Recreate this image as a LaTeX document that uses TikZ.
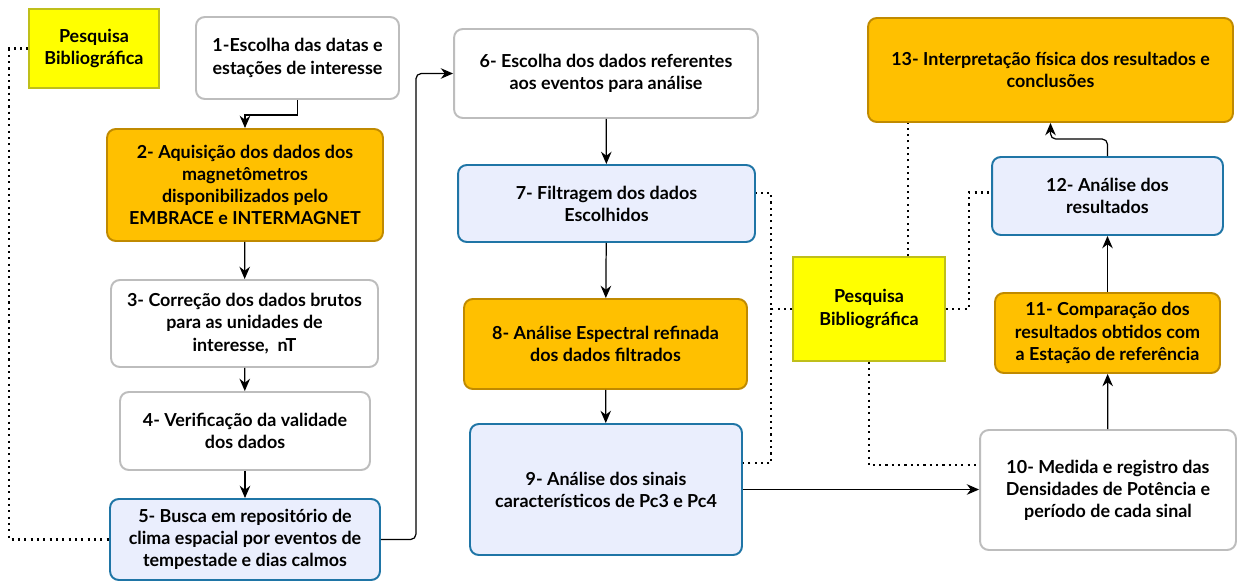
\documentclass[tikz,border=0pt]{standalone}
\usepackage{fontspec}
\setmainfont{Lato}
\usetikzlibrary{arrows.meta}

\definecolor{boxorange}{HTML}{FFC000}
\definecolor{boxorangeline}{HTML}{C08A00}
\definecolor{boxblue}{HTML}{EAEEFD}
\definecolor{boxblueline}{HTML}{1F75A6}
\definecolor{boxgrayline}{HTML}{BDBDBD}
\definecolor{pbyellow}{HTML}{FFFF00}
\definecolor{pbyellowline}{HTML}{BFBF1A}

\tikzset{
  etapa/.style={draw=boxgrayline, fill=white, rounded corners=5pt, line width=1.1pt,
    align=center, inner sep=2pt, font=\bfseries\fontsize{10.2}{12.6}\selectfont},
  laranja/.style={etapa, draw=boxorangeline, fill=boxorange},
  azul/.style={etapa, draw=boxblueline, fill=boxblue},
  pesquisa/.style={etapa, rounded corners=0pt, draw=pbyellowline, fill=pbyellow, line width=0.8pt},
  fluxo/.style={-{Stealth[length=7pt,width=6pt]}, line width=0.7pt},
  referencia/.style={line width=1.2pt, dash pattern=on 1.2pt off 2.4pt},
}

\begin{document}
\begin{tikzpicture}[x=0.02cm, y=-0.02cm]
    \useasboundingbox (0,0) rectangle (1241,581);

    % Left column
    \node[pesquisa, minimum width=2.6cm, minimum height=1.58cm] (pb1) at (94,48.5)
      {Pesquisa\\Bibliográfica};
    \node[etapa, minimum width=4.06cm, minimum height=1.64cm] (e1) at (297.5,58)
      {1-Escolha das datas e\\estações de interesse};
    \node[laranja, minimum width=5.52cm, minimum height=2.24cm] (e2) at (245,185)
      {2- Aquisição dos dados dos\\magnetômetros\\disponibilizados pelo\\EMBRACE e INTERMAGNET};
    \node[etapa, minimum width=5.34cm, minimum height=1.74cm] (e3) at (244.5,323.5)
      {3- Correção dos dados brutos\\para as unidades de\\interesse, \ nT};
    \node[etapa, minimum width=5.0cm, minimum height=1.56cm] (e4) at (245,431)
      {4- Verificação da validade\\dos dados};
    \node[azul, minimum width=5.4cm, minimum height=1.62cm] (e5) at (245,539.5)
      {5- Busca em repositório de\\clima espacial por eventos de\\tempestade e dias calmos};

    % Middle column
    \node[etapa, minimum width=6.08cm, minimum height=1.78cm] (e6) at (606,73.5)
      {6- Escolha dos dados referentes\\aos eventos para análise};
    \node[azul, minimum width=5.94cm, minimum height=1.54cm] (e7) at (606.5,203.5)
      {7- Filtragem dos dados\\Escolhidos};
    \node[laranja, minimum width=5.66cm, minimum height=1.8cm] (e8) at (605.5,344)
      {8- Análise Espectral refinada\\dos dados filtrados};
    \node[azul, minimum width=5.44cm, minimum height=2.62cm] (e9) at (606,489.5)
      {9- Análise dos sinais\\característicos de Pc3 e Pc4};
    \node[pesquisa, minimum width=3.04cm, minimum height=2.08cm] (pb2) at (869,309)
      {Pesquisa\\Bibliográfica};

    % Right column
    \node[laranja, minimum width=7.3cm, minimum height=2.08cm] (e13) at (1050.5,70)
      {13- Interpretação física dos resultados e\\conclusões};
    \node[azul, minimum width=4.62cm, minimum height=1.56cm] (e12) at (1107.5,196)
      {12- Análise dos\\resultados};
    \node[laranja, minimum width=4.5cm, minimum height=1.6cm] (e11) at (1107.5,333)
      {11- Comparação dos\\resultados obtidos com\\a Estação de referência};
    \node[etapa, minimum width=5.12cm, minimum height=2.4cm] (e10) at (1108,490)
      {10- Medida e registro das\\Densidades de Potência e\\período de cada sinal};

    % Flow
    \draw[fluxo] (e1.south) -- ++(0,15) -| (e2.north);
    \draw[fluxo] (e2) -- (e3);
    \draw[fluxo] (e3) -- (e4);
    \draw[fluxo] (e4) -- (e5);
    \draw[fluxo, rounded corners=3pt] (e5.east) -- ++(35,0) |- (e6.west);
    \draw[fluxo] (e6) -- (e7);
    \draw[fluxo] (e7) -- (e8);
    \draw[fluxo] (e8) -- (e9);
    \draw[fluxo] (e9.east) -- (e9.east -| e10.west);
    \draw[fluxo] (e10) -- (e11);
    \draw[fluxo] (e11) -- (e12);
    \draw[fluxo, rounded corners=3pt] (e12.north) -- ++(0,-17) -| (e13.south);

    % Bibliographic references
    \draw[referencia] (pb1.west) -- ++(-19,0) |- (e5.west);
    \draw[referencia] (pb2.west) -- ++(-21,0) |- ([yshift=6pt]e7.east);
    \draw[referencia] (pb2.west) -- ++(-21,0) |- ([yshift=15pt]e9.east);
    \draw[referencia] (pb2.east) -- ++(23,0) |- ([yshift=2pt]e12.west);
    \draw[referencia] ([xshift=22pt]pb2.north) -- ([xshift=22pt]pb2.north |- e13.south);
    \draw[referencia] (pb2.south) |- ([yshift=14pt]e10.west);
\end{tikzpicture}
\end{document}
